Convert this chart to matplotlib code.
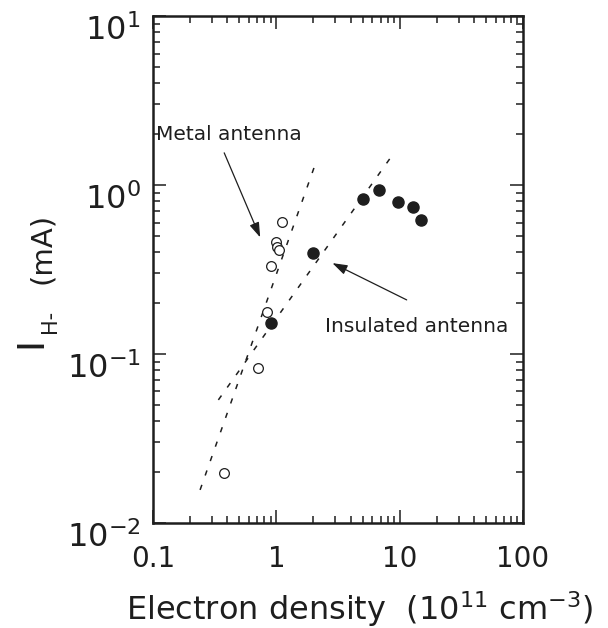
import matplotlib.pyplot as plt
from matplotlib.ticker import FixedLocator, FixedFormatter, LogLocator, NullFormatter
from matplotlib.transforms import ScaledTranslation

# the original lettering is wide, DejaVu Sans is the closest in proportions
plt.rcParams['font.family'] = ['DejaVu Sans']
plt.rcParams['mathtext.fontset'] = 'dejavusans'
plt.rcParams['axes.unicode_minus'] = False

# metal antenna (open circles), electron density in 1e11 cm-3, current in mA
metal_density = [0.377, 0.716, 0.847, 0.911, 0.99, 1.02, 1.05, 1.11]
metal_current = [0.0197, 0.083, 0.178, 0.332, 0.46, 0.43, 0.41, 0.607]

# insulated antenna (filled circles)
insulated_density = [0.902, 1.99, 5.09, 6.82, 9.77, 12.9, 14.8]
insulated_current = [0.153, 0.394, 0.822, 0.928, 0.796, 0.745, 0.621]

# dotted guide lines
metal_fit_density = [0.241, 2.13]
metal_fit_current = [0.0157, 1.41]
insulated_fit_density = [0.339, 8.77]
insulated_fit_current = [0.0535, 1.51]

x_ticks = [0.1, 1, 10, 100]
x_tick_labels = ['0.1', '1', '10', '100']
y_ticks = [0.01, 0.1, 1, 10]

ink = '#1e1e1e'

fig = plt.figure(figsize=(6.08, 6.28), dpi=100)
ax = fig.add_axes([0.2516, 0.1672, 0.6086, 0.8073])
ax.set_xscale('log')
ax.set_yscale('log')
ax.set_xlim(0.1, 100)
ax.set_ylim(0.01, 10)

ax.plot(metal_fit_density, metal_fit_current, color=ink, lw=1.1, ls=(0, (3.5, 6.5)))
ax.plot(insulated_fit_density, insulated_fit_current, color=ink, lw=1.1, ls=(0, (3.5, 6.5)))

ax.plot(metal_density, metal_current, 'o', ls='none', ms=7, mfc='white', mec=ink, mew=0.9)
ax.plot(insulated_density, insulated_current, 'o', ls='none', ms=8, color=ink)

# arrows and labels
arrow = dict(arrowstyle='-|>,head_length=0.9,head_width=0.3', color=ink, lw=0.9,
             shrinkA=0, shrinkB=0, mutation_scale=10)
ax.annotate('', xy=(0.74, 0.49), xytext=(0.378, 1.55), arrowprops=arrow)
ax.text(0.413, 1.98, 'Metal antenna', fontsize=14.5, ha='center', va='center', color=ink)
ax.annotate('', xy=(2.85, 0.345), xytext=(11.4, 0.209), arrowprops=arrow)
ax.text(13.7, 0.1445, 'Insulated antenna', fontsize=14.5, ha='center', va='center', color=ink)

# ticks on all sides, pointing in
ax.xaxis.set_major_locator(FixedLocator(x_ticks))
ax.xaxis.set_major_formatter(FixedFormatter(x_tick_labels))
ax.yaxis.set_major_locator(FixedLocator(y_ticks))
for axis in (ax.xaxis, ax.yaxis):
    axis.set_minor_locator(LogLocator(base=10, subs=range(2, 10), numticks=20))
    axis.set_minor_formatter(NullFormatter())
ax.tick_params(which='both', direction='in', top=True, right=True, width=1.1, color=ink)
ax.tick_params(which='major', length=9.5)
ax.tick_params(which='minor', length=5)
ax.tick_params(axis='x', which='major', labelsize=20, pad=16, labelcolor=ink)
ax.tick_params(axis='y', which='major', labelsize=23, pad=9, labelcolor=ink)
for s in ax.spines.values():
    s.set_linewidth(1.8)
    s.set_color(ink)

# y labels sit a bit below their ticks in the original
shift = ScaledTranslation(0, -8 / 72, fig.dpi_scale_trans)
for lab in ax.get_yticklabels():
    lab.set_transform(lab.get_transform() + shift)

ax.set_xlabel(r'Electron density  ($\mathregular{10^{11}}$ $\mathregular{cm^{-3}}$)',
              fontsize=23, color=ink)
ax.xaxis.set_label_coords(0.56, -0.13)

# y axis label: I with subscript H-, then (mA)
fig.text(31 / 608, 1 - 342 / 628, 'I', rotation=90, fontsize=27, ha='center', va='center', color=ink)
fig.text(50 / 608, 1 - 321 / 628, 'H-', rotation=90, fontsize=15, ha='center', va='center', color=ink)
fig.text(42 / 608, 1 - 248 / 628, '(mA)', rotation=90, fontsize=21, ha='center', va='center', color=ink)

fig.savefig('out.png', dpi=100)
